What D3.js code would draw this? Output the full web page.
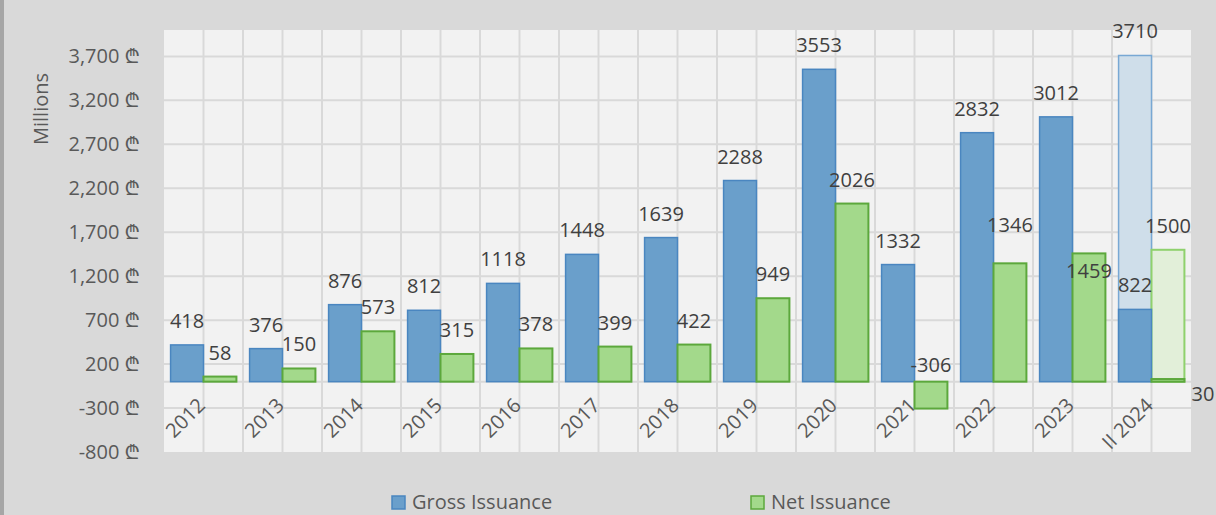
<!DOCTYPE html>
<html>
<head>
<meta charset="utf-8">
<script src="https://cdnjs.cloudflare.com/ajax/libs/d3/7.8.5/d3.min.js"></script>
<style>
  html, body { margin: 0; padding: 0; background: #d9d9d9; }
  svg { display: block; }
  text { font-family: "Open Sans", "Noto Sans", "DejaVu Sans", sans-serif; }
</style>
</head>
<body>
<div id="chart"></div>
<script>
// issuance.js

// Chart data (millions of lari)
const categories = ["2012", "2013", "2014", "2015", "2016", "2017", "2018", "2019", "2020", "2021", "2022", "2023", "II 2024"];
const grossIssuance = [418, 376, 876, 812, 1118, 1448, 1639, 2288, 3553, 1332, 2832, 3012, 822];
const netIssuance = [58, 150, 573, 315, 378, 399, 422, 949, 2026, -306, 1346, 1459, 30];
// planned full-year values, drawn as light bars behind the actuals
const plannedCategories = ["II 2024"];
const grossPlanned = [3710];
const netPlanned = [1500];
const yTicks = [-800, -300, 200, 700, 1200, 1700, 2200, 2700, 3200, 3700];
const seriesNames = ["Gross Issuance", "Net Issuance"];

const width = 1216;
const height = 515;
const plot = { left: 164, right: 1191, top: 30, bottom: 452 };

const svg = d3.select("#chart")
  .append("svg")
  .attr("width", width)
  .attr("height", height);

// background + darker stripe on the left edge
svg.append("rect").attr("width", width).attr("height", height).attr("fill", "#d9d9d9");
svg.append("rect").attr("width", 4).attr("height", height).attr("fill", "#a6a6a6");

// scales
const x = d3.scaleBand()
  .domain(categories)
  .range([plot.left, plot.right]);

const xSeries = d3.scaleBand()
  .domain(["gross", "net"])
  .range([0, x.bandwidth()])
  .paddingOuter(0.2);

const y = d3.scaleLinear()
  .domain([-800, 4000])
  .range([plot.bottom, plot.top]);

// plain hyphen for negatives, like the original
const fmt = d3.formatLocale({ decimal: ".", thousands: ",", grouping: [3], currency: ["", ""], minus: "-" }).format(",");

// plot area
svg.append("rect")
  .attr("x", plot.left)
  .attr("y", plot.top)
  .attr("width", plot.right - plot.left)
  .attr("height", plot.bottom - plot.top)
  .attr("fill", "#f2f2f2");

// gridlines
const grid = svg.append("g").attr("stroke", "#d9d9d9").attr("stroke-width", 2);

grid.selectAll("line.h")
  .data(yTicks.filter(t => t > -800))
  .enter().append("line")
  .attr("x1", plot.left).attr("x2", plot.right)
  .attr("y1", d => y(d)).attr("y2", d => y(d));

// zero line
grid.append("line")
  .attr("x1", plot.left).attr("x2", plot.right)
  .attr("y1", y(0)).attr("y2", y(0));

// vertical lines at category edges and centres
const vLines = [];
categories.forEach((c, i) => {
  if (i > 0) vLines.push(x(c));
  vLines.push(x(c) + x.bandwidth() / 2);
});
grid.selectAll("line.v")
  .data(vLines)
  .enter().append("line")
  .attr("x1", d => d).attr("x2", d => d)
  .attr("y1", plot.top).attr("y2", plot.bottom);

// y axis labels
svg.append("g")
  .selectAll("text")
  .data(yTicks)
  .enter().append("text")
  .attr("x", 140)
  .attr("y", d => y(d))
  .attr("dy", "0.35em")
  .attr("text-anchor", "end")
  .attr("font-size", 20)
  .attr("fill", "#595959")
  .text(d => fmt(d) + " \u20BE");

svg.append("text")
  .attr("transform", "translate(48,109) rotate(-90)")
  .attr("text-anchor", "middle")
  .attr("font-size", 20)
  .attr("fill", "#595959")
  .text("Millions");

// bars
function barY(v) { return y(Math.max(v, 0)); }
function barH(v) { return Math.abs(y(v) - y(0)); }

const bars = svg.append("g");

// planned (light) bars first, so actuals sit on top
bars.selectAll("rect.gp")
  .data(plannedCategories.map((c, i) => ({ c, v: grossPlanned[i] })))
  .enter().append("rect")
  .attr("x", d => x(d.c) + xSeries("gross"))
  .attr("y", d => barY(d.v))
  .attr("width", xSeries.bandwidth())
  .attr("height", d => barH(d.v))
  .attr("fill", "#cfdeea")
  .attr("stroke", "#78a8d4")
  .attr("stroke-width", 1.5);

bars.selectAll("rect.np")
  .data(plannedCategories.map((c, i) => ({ c, v: netPlanned[i] })))
  .enter().append("rect")
  .attr("x", d => x(d.c) + xSeries("net"))
  .attr("y", d => barY(d.v))
  .attr("width", xSeries.bandwidth())
  .attr("height", d => barH(d.v))
  .attr("fill", "#e2efd9")
  .attr("stroke", "#8fd16d")
  .attr("stroke-width", 2);

bars.selectAll("rect.g")
  .data(categories.map((c, i) => ({ c, v: grossIssuance[i] })))
  .enter().append("rect")
  .attr("x", d => x(d.c) + xSeries("gross"))
  .attr("y", d => barY(d.v))
  .attr("width", xSeries.bandwidth())
  .attr("height", d => barH(d.v))
  .attr("fill", "#6a9fcb")
  .attr("stroke", "#4a86c0")
  .attr("stroke-width", 1.5);

bars.selectAll("rect.n")
  .data(categories.map((c, i) => ({ c, v: netIssuance[i] })))
  .enter().append("rect")
  .attr("x", d => x(d.c) + xSeries("net"))
  .attr("y", d => barY(d.v))
  .attr("width", xSeries.bandwidth())
  .attr("height", d => barH(d.v))
  .attr("fill", "#a3d98b")
  .attr("stroke", "#5ca83c")
  .attr("stroke-width", 2);

// data labels - a few were moved by hand in the original
const nudge = {
  "net-2021": [0, 7],
  "net-2022": [0, -14],
  "net-2023": [0, 42],
  "net-II 2024": [35, 39]
};

const labelData = [];
categories.forEach((c, i) => {
  labelData.push({ key: "gross-" + c, c, s: "gross", v: grossIssuance[i] });
  labelData.push({ key: "net-" + c, c, s: "net", v: netIssuance[i] });
});
plannedCategories.forEach((c, i) => {
  labelData.push({ key: "gp-" + c, c, s: "gross", v: grossPlanned[i] });
  labelData.push({ key: "np-" + c, c, s: "net", v: netPlanned[i] });
});

svg.append("g")
  .selectAll("text")
  .data(labelData)
  .enter().append("text")
  .attr("x", d => x(d.c) + xSeries(d.s) + xSeries.bandwidth() / 2 + (nudge[d.key] ? nudge[d.key][0] : 0))
  .attr("y", d => barY(d.v) - 24 + (nudge[d.key] ? nudge[d.key][1] : 0))
  .attr("dy", "0.35em")
  .attr("text-anchor", "middle")
  .attr("font-size", 20)
  .attr("fill", "#404040")
  .text(d => d.v);

// x axis labels, rotated
svg.append("g")
  .selectAll("text")
  .data(categories)
  .enter().append("text")
  .attr("transform", d => `translate(${x(d) + x.bandwidth() / 2 - 2},${y(0) + 20}) rotate(-45)`)
  .attr("dy", "0.35em")
  .attr("text-anchor", "end")
  .attr("font-size", 20)
  .attr("fill", "#595959")
  .text(d => d);

// legend
const legend = svg.append("g").attr("transform", "translate(0,496)");
const legendX = [392, 751];
const legendFill = ["#6a9fcb", "#a3d98b"];
const legendStroke = ["#4a86c0", "#5ca83c"];

seriesNames.forEach((name, i) => {
  legend.append("rect")
    .attr("x", legendX[i])
    .attr("y", 0)
    .attr("width", 13)
    .attr("height", 13)
    .attr("fill", legendFill[i])
    .attr("stroke", legendStroke[i])
    .attr("stroke-width", 1.5);
  legend.append("text")
    .attr("x", legendX[i] + 20)
    .attr("y", 13)
    .attr("font-size", 20)
    .attr("fill", "#595959")
    .text(name);
});
</script>
</body>
</html>
